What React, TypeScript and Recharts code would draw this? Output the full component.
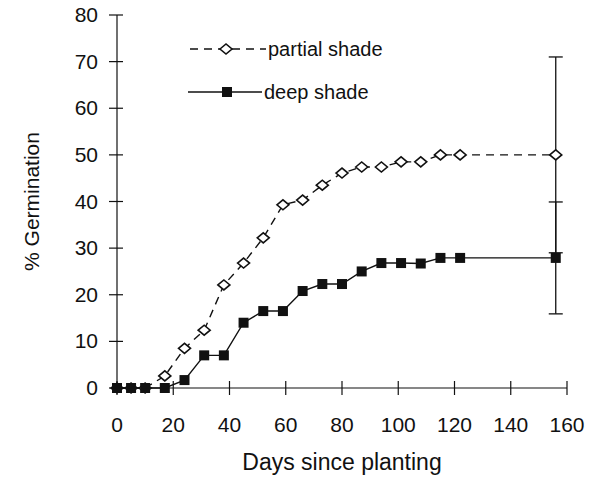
import React from 'react';
import { LineChart, Line, XAxis, YAxis, ErrorBar } from 'recharts';

const days = [0, 5, 10, 17, 24, 31, 38, 45, 52, 59, 66, 73, 80, 87, 94, 101, 108, 115, 122, 156];
const partialShade = [0, 0, 0, 2.6, 8.5, 12.4, 22.1, 26.8, 32.2, 39.3, 40.3, 43.5, 46.1, 47.4, 47.4, 48.5, 48.5, 50, 50, 50];
const deepShade = [0, 0, 0, 0, 1.7, 7, 7, 14, 16.5, 16.5, 20.8, 22.3, 22.3, 25, 26.8, 26.8, 26.7, 27.9, 27.9, 27.9];
// only the final count carries an error bar
const partialErr = [null, null, null, null, null, null, null, null, null, null, null, null, null, null, null, null, null, null, null, 21];
const deepErr = [null, null, null, null, null, null, null, null, null, null, null, null, null, null, null, null, null, null, null, 12];
const xTicks = [0, 20, 40, 60, 80, 100, 120, 140, 160];
const yTicks = [0, 10, 20, 30, 40, 50, 60, 70, 80];

const data = days.map((d, i) => ({
  day: d,
  partial: partialShade[i],
  deep: deepShade[i],
  partialErr: partialErr[i],
  deepErr: deepErr[i],
}));

const ink = '#111';
const font = '"Liberation Sans", Arial, sans-serif';

function diamond(cx: number, cy: number) {
  return `${cx - 6},${cy} ${cx},${cy - 5} ${cx + 6},${cy} ${cx},${cy + 5}`;
}

function DiamondDot(props: any) {
  const { cx, cy, index } = props;
  return <polygon key={`d${index}`} points={diamond(cx, cy)} fill="#fff" stroke={ink} strokeWidth={1.6} />;
}

function SquareDot(props: any) {
  const { cx, cy, index } = props;
  return <rect key={`s${index}`} x={cx - 5} y={cy - 5} width={10} height={10} fill={ink} />;
}

function XTick({ x, y, payload }: any) {
  return (
    <g>
      <line x1={x} x2={x} y1={y - 7} y2={y + 7} stroke={ink} strokeWidth={1.2} />
      <text x={x} y={y + 44} textAnchor="middle" fontSize={21} fill={ink} fontFamily={font}>
        {payload.value}
      </text>
    </g>
  );
}

function YTick({ x, y, payload }: any) {
  return (
    <g>
      <line x1={x - 8} x2={x + 6} y1={y} y2={y} stroke={ink} strokeWidth={1.2} />
      <text x={x - 19} y={y + 7} textAnchor="end" fontSize={21} fill={ink} fontFamily={font}>
        {payload.value}
      </text>
    </g>
  );
}

function LegendBox() {
  return (
    <svg width={240} height={70} style={{ position: 'absolute', left: 188, top: 37 }}>
      <line x1={2} x2={78} y1={12} y2={12} stroke={ink} strokeWidth={1.3} strokeDasharray="8 6" />
      <polygon points={diamond(38, 12)} fill="#fff" stroke={ink} strokeWidth={1.6} />
      <text x={80} y={19} fontSize={20} fill={ink} fontFamily={font}>partial shade</text>
      <line x1={0} x2={74} y1={55} y2={55} stroke={ink} strokeWidth={1.3} />
      <rect x={34} y={50} width={10} height={10} fill={ink} />
      <text x={76} y={62} fontSize={20} fill={ink} fontFamily={font}>deep shade</text>
    </svg>
  );
}

export default function App() {
  return (
    <div style={{ position: 'absolute', left: 0, top: 0, width: 589, height: 481, background: '#fff' }}>
      <LineChart width={589} height={481} data={data} margin={{ top: 15, right: 22, bottom: 0, left: 0 }}>
        <XAxis
          type="number"
          dataKey="day"
          domain={[0, 160]}
          ticks={xTicks}
          height={93}
          tickSize={0}
          tickMargin={0}
          tickLine={false}
          tick={<XTick />}
          axisLine={{ stroke: ink, strokeWidth: 1.2 }}
          label={{ value: 'Days since planting', position: 'insideBottom', offset: 11, fontSize: 23, fill: ink, fontFamily: font }}
        />
        <YAxis
          type="number"
          domain={[0, 80]}
          ticks={yTicks}
          width={117}
          tickSize={0}
          tickMargin={0}
          tickLine={false}
          tick={<YTick />}
          axisLine={{ stroke: ink, strokeWidth: 1.2 }}
          label={{ value: '% Germination', angle: -90, position: 'insideLeft', offset: 32, fontSize: 21, fill: ink, fontFamily: font, style: { textAnchor: 'middle' } }}
        />
        <Line
          type="linear"
          dataKey="partial"
          stroke={ink}
          strokeWidth={1.4}
          strokeDasharray="8 6"
          dot={DiamondDot}
          activeDot={false}
          isAnimationActive={false}
        >
          <ErrorBar dataKey="partialErr" direction="y" width={7} stroke={ink} strokeWidth={1.3} />
        </Line>
        <Line
          type="linear"
          dataKey="deep"
          stroke={ink}
          strokeWidth={1.4}
          dot={SquareDot}
          activeDot={false}
          isAnimationActive={false}
        >
          <ErrorBar dataKey="deepErr" direction="y" width={7} stroke={ink} strokeWidth={1.3} />
        </Line>
      </LineChart>
      <LegendBox />
    </div>
  );
}
